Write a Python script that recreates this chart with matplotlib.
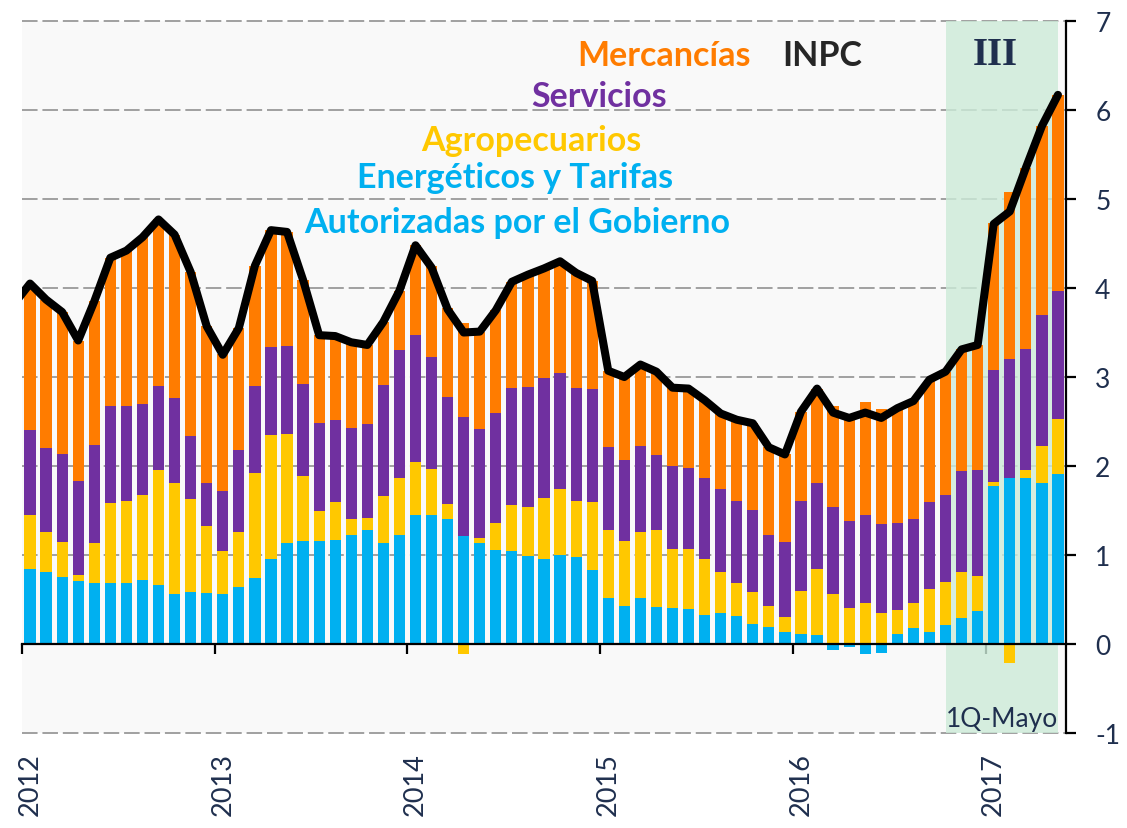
import matplotlib
matplotlib.use("Agg")
import matplotlib.pyplot as plt
import matplotlib.transforms as mtransforms
import numpy as np

# Contribuciones a la inflación anual (puntos porcentuales), ene-2012 a 1Q-may-2017
years = ["2012", "2013", "2014", "2015", "2016", "2017"]

energeticos = [
    0.84, 0.81, 0.75, 0.71, 0.68, 0.69, 0.69, 0.72, 0.66, 0.56, 0.58, 0.57,
    0.56, 0.64, 0.74, 0.95, 1.13, 1.16, 1.16, 1.17, 1.23, 1.28, 1.14, 1.23,
    1.45, 1.45, 1.40, 1.21, 1.13, 1.06, 1.05, 0.99, 0.96, 1.00, 0.98, 0.83,
    0.52, 0.43, 0.52, 0.42, 0.41, 0.39, 0.33, 0.35, 0.32, 0.23, 0.19, 0.14,
    0.11, 0.10, -0.07, -0.03, -0.11, -0.10, 0.11, 0.18, 0.13, 0.21, 0.29, 0.37,
    1.77, 1.86, 1.87, 1.81, 1.91,
]
agropecuarios = [
    0.61, 0.45, 0.40, 0.07, 0.45, 0.89, 0.92, 0.95, 1.29, 1.25, 1.05, 0.76,
    0.48, 0.62, 1.18, 1.40, 1.23, 0.73, 0.33, 0.42, 0.18, 0.14, 0.52, 0.63,
    0.59, 0.52, 0.17, -0.11, 0.06, 0.30, 0.51, 0.55, 0.68, 0.74, 0.63, 0.77,
    0.76, 0.73, 0.74, 0.86, 0.66, 0.68, 0.62, 0.46, 0.36, 0.35, 0.24, 0.16,
    0.49, 0.74, 0.56, 0.41, 0.46, 0.35, 0.27, 0.28, 0.49, 0.49, 0.52, 0.39,
    0.05, -0.21, 0.09, 0.41, 0.62,
]
servicios = [
    0.96, 0.94, 0.99, 1.05, 1.11, 1.09, 1.06, 1.03, 0.95, 0.95, 0.71, 0.48,
    0.68, 0.92, 0.98, 0.99, 0.99, 1.03, 0.99, 0.93, 1.02, 1.05, 1.25, 1.44,
    1.43, 1.26, 1.21, 1.34, 1.23, 1.24, 1.32, 1.35, 1.35, 1.31, 1.27, 1.26,
    0.93, 0.91, 0.96, 0.84, 0.93, 0.91, 0.91, 0.93, 0.93, 0.93, 0.80, 0.85,
    1.01, 0.97, 0.98, 0.97, 0.99, 1.00, 0.98, 0.95, 0.98, 0.97, 1.13, 1.19,
    1.26, 1.34, 1.36, 1.48, 1.44,
]
mercancias = [
    1.59, 1.67, 1.59, 1.58, 1.61, 1.67, 1.75, 1.87, 1.87, 1.84, 1.84, 1.76,
    1.54, 1.37, 1.35, 1.31, 1.28, 1.17, 0.99, 0.94, 0.96, 0.89, 0.71, 0.67,
    1.01, 1.02, 1.00, 1.06, 1.09, 1.15, 1.19, 1.26, 1.23, 1.25, 1.29, 1.22,
    0.86, 0.93, 0.90, 0.94, 0.88, 0.89, 0.88, 0.85, 0.91, 0.97, 0.98, 0.98,
    1.00, 1.06, 1.13, 1.19, 1.27, 1.29, 1.29, 1.32, 1.37, 1.39, 1.37, 1.41,
    1.65, 1.88, 2.03, 2.12, 2.20,
]
# INPC desde dic-2011 (un punto antes del primer mes mostrado)
inpc = [
    3.82,
    4.05, 3.87, 3.73, 3.41, 3.85, 4.34, 4.42, 4.57, 4.77, 4.60, 4.18, 3.57,
    3.25, 3.55, 4.25, 4.65, 4.63, 4.09, 3.47, 3.46, 3.39, 3.36, 3.62, 3.97,
    4.48, 4.23, 3.76, 3.50, 3.51, 3.75, 4.07, 4.15, 4.22, 4.30, 4.17, 4.08,
    3.07, 3.00, 3.14, 3.06, 2.88, 2.87, 2.74, 2.59, 2.52, 2.48, 2.21, 2.13,
    2.61, 2.87, 2.60, 2.54, 2.60, 2.54, 2.65, 2.73, 2.97, 3.06, 3.31, 3.36,
    4.72, 4.86, 5.35, 5.82, 6.17,
]

NAVY = "#1f2f4e"
series = [
    (energeticos, "#00b0f0"),
    (agropecuarios, "#ffc800"),
    (servicios, "#7030a0"),
    (mercancias, "#ff7c00"),
]

plt.rcParams["font.family"] = ["Lato", "DejaVu Sans"]
plt.rcParams["axes.unicode_minus"] = False

fig = plt.figure(figsize=(11.27, 8.29), dpi=100)
ax = fig.add_axes([22 / 1127, 1 - 734 / 829, 1044 / 1127, 712 / 829])
ax.set_facecolor("#f9f9f9")

n = len(energeticos)
x = np.arange(n)
pos = np.zeros(n)
neg = np.zeros(n)
for vals, color in series:
    v = np.array(vals)
    bottom = np.where(v >= 0, pos, neg)
    ax.bar(x, v, bottom=bottom, width=0.7, color=color, zorder=3)
    pos += np.clip(v, 0, None)
    neg += np.clip(v, None, 0)

ax.plot(np.arange(-1, n), inpc, color="black", lw=5.8, zorder=5,
        solid_joinstyle="round", solid_capstyle="round")

# periodo sombreado
ax.axvspan(57, 64, color="#ccebd8", alpha=0.8, zorder=2, lw=0)

for yv in [-1, 1, 2, 3, 4, 5, 6, 7]:
    ax.axhline(yv, color="#a0a0a0", lw=1.4, ls=(0, (8, 2.5)), zorder=1, clip_on=False)

ax.set_xlim(-0.5, n - 0.5)
ax.set_ylim(-1, 7)

for s in ["left", "top"]:
    ax.spines[s].set_visible(False)
ax.spines["bottom"].set_position(("data", 0))
ax.spines["bottom"].set_linewidth(1.6)
ax.spines["bottom"].set_zorder(6)
ax.spines["right"].set_linewidth(1.6)

ax.set_xticks(np.arange(-0.5, n, 12), labels=[])
ax.tick_params(axis="x", direction="out", length=7, width=1.6)
ax.yaxis.tick_right()
ax.set_yticks(range(-1, 8))
ax.tick_params(axis="y", direction="out", length=7, width=1.6, pad=14,
               labelsize=19, labelcolor=NAVY)

trans = mtransforms.blended_transform_factory(ax.transData, ax.transAxes)
for i, yr in enumerate(years):
    ax.text(i * 12, -0.027, yr, transform=trans, rotation=90, ha="center",
            va="top", fontsize=19.5, color=NAVY)

# leyenda como texto
lab = dict(fontsize=24.5, fontweight="bold", ha="center", va="baseline", zorder=7)
ax.text(39.5, 6.50, "Mercancías", color="#ff7c00", **lab)
ax.text(49.3, 6.50, "INPC", color="#262626", **lab)
ax.text(35.4, 6.04, "Servicios", color="#7030a0", **lab)
ax.text(31.2, 5.55, "Agropecuarios", color="#ffc800", **lab)
ax.text(30.2, 5.13, "Energéticos y Tarifas", color="#00b0f0", **lab)
ax.text(30.3, 4.63, "Autorizadas por el Gobierno", color="#00b0f0", **lab)

ax.text(60.1, 6.62, "III", family="Liberation Serif", fontweight="bold",
        fontsize=28, color=NAVY, ha="center", va="center", zorder=7)
ax.text(60.5, -0.92, "1Q-Mayo", fontsize=19, color=NAVY, ha="center",
        va="baseline", zorder=7)

fig.savefig("out.png", dpi=100)
